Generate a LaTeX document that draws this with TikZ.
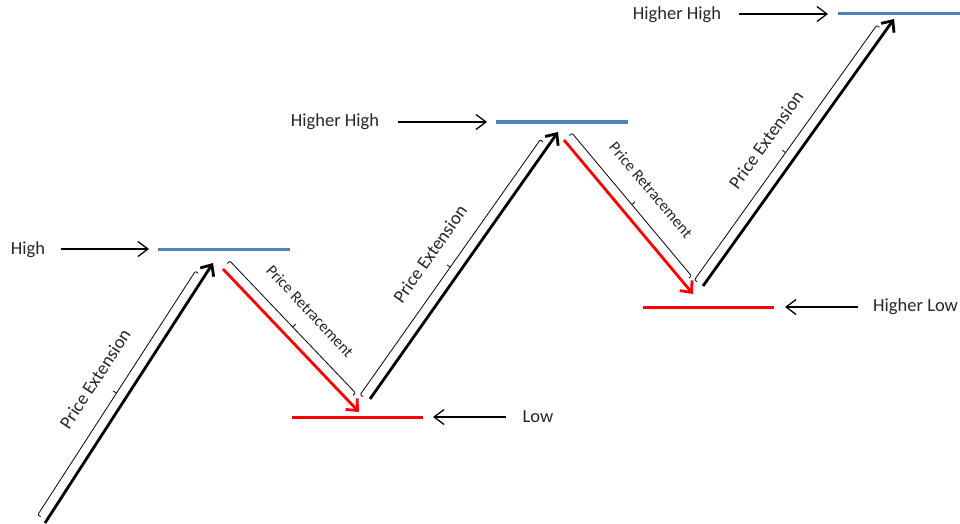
\documentclass[tikz,border=0pt]{standalone}
\usepackage{fontspec}
\setmainfont{Carlito}
\usetikzlibrary{arrows.meta}
\definecolor{hiblue}{HTML}{4F81BD}
\definecolor{lored}{HTML}{FF0000}
\begin{document}
\begin{tikzpicture}[x=1pt,y=-1pt,
  bluelvl/.style={hiblue,line width=3pt},
  redlvl/.style={lored,line width=3pt},
  ptr/.style={line width=1.3pt,-{Straight Barb[length=10pt,width=15pt,line width=1.3pt]}},
  upmove/.style={line width=2.8pt,-{Straight Barb[length=9pt,width=16pt]}},
  downmove/.style={lored,line width=2.8pt,-{Straight Barb[length=9pt,width=16pt]}},
  bktline/.style={line width=0.8pt,rounded corners=1pt},
  pics/bkt/.style={code={
    \draw[bktline] (0,0) -- (0,-3.5) -- (#1,-3.5) -- (#1,0);
    \draw[line width=0.8pt] (#1/2,-3.5) -- (#1/2,-7.5);}},
  lbl/.style={font=\fontsize{18.5}{20}\selectfont,inner sep=0pt,text=black!85},
  extlbl/.style={font=\fontsize{18.5}{20}\selectfont,inner sep=0pt,text=black!85},
  retlbl/.style={font=\fontsize{16}{17}\selectfont,inner sep=0pt,text=black!85}]
\useasboundingbox (0,0) rectangle (960,524);
% level lines
\coordinate (h1a) at (158,249); \coordinate (h1b) at (290,249);
\coordinate (hh1a) at (496,122); \coordinate (hh1b) at (628,122);
\coordinate (hh2a) at (838,14); \coordinate (hh2b) at (960,14);
\coordinate (l1a) at (292,417); \coordinate (l1b) at (423,417);
\coordinate (hl1a) at (643,307); \coordinate (hl1b) at (774,307);
\draw[bluelvl] (h1a) -- (h1b);
\draw[bluelvl] (hh1a) -- (hh1b);
\draw[bluelvl] (hh2a) -- (hh2b);
\draw[redlvl] (l1a) -- (l1b);
\draw[redlvl] (hl1a) -- (hl1b);
% labels and pointers
\node[lbl] (tH) at (28,250) {High};
\node[lbl] (tHH1) at (335,122) {Higher High};
\node[lbl] (tHH2) at (677,15) {Higher High};
\node[lbl] (tL) at (538,417) {Low};
\node[lbl,anchor=west] (tHL) at (873,307) {Higher Low};
\coordinate (pH1) at (61,249); \coordinate (pH2) at (149,249);
\coordinate (pHH1) at (398,122); \coordinate (pHH2) at (487,122);
\coordinate (pHH3) at (739,14); \coordinate (pHH4) at (828,14);
\coordinate (pL1) at (506,417); \coordinate (pL2) at (433,417);
\coordinate (pHL1) at (858,307); \coordinate (pHL2) at (785,307);
\draw[ptr] (pH1) -- (pH2);
\draw[ptr] (pHH1) -- (pHH2);
\draw[ptr] (pHH3) -- (pHH4);
\draw[ptr] (pL1) -- (pL2);
\draw[ptr] (pHL1) -- (pHL2);
% price moves
\coordinate (u1s) at (45,523); \coordinate (u1e) at (213,263);
\coordinate (d1s) at (223,269); \coordinate (d1e) at (359,412);
\coordinate (u2s) at (370,399); \coordinate (u2e) at (558,132);
\coordinate (d2s) at (564,140); \coordinate (d2e) at (693,294);
\coordinate (u3s) at (703,286); \coordinate (u3e) at (894,19);
\draw[upmove] (u1s) -- (u1e);
\draw[downmove] (d1s) -- (d1e);
\draw[upmove] (u2s) -- (u2e);
\draw[downmove] (d2s) -- (d2e);
\draw[upmove] (u3s) -- (u3e);
% brackets
\coordinate (b1s) at (40.7,516.7);
\coordinate (r1s) at (227.4,263.5);
\coordinate (b2s) at (363.1,396.6);
\coordinate (r2s) at (569.4,135.5);
\coordinate (b3s) at (697.3,281.9);
\pic[rotate=57.1] at (b1s) {bkt=290};
\pic[rotate=-46.4] at (r1s) {bkt=182};
\pic[rotate=54.76] at (b2s) {bkt=312};
\pic[rotate=-50.07] at (r2s) {bkt=186};
\pic[rotate=54.4] at (b3s) {bkt=313};
% move labels
\node[extlbl,rotate=57] (e1) at (95,379) {Price Extension};
\node[extlbl,rotate=55] (e2) at (430,254) {Price Extension};
\node[extlbl,rotate=54.5] (e3) at (766,140) {Price Extension};
\node[retlbl,rotate=-47] (r1) at (310,311) {Price Retracement};
\node[retlbl,rotate=-50] (r2) at (651,190) {Price Retracement};
\end{tikzpicture}
\end{document}
